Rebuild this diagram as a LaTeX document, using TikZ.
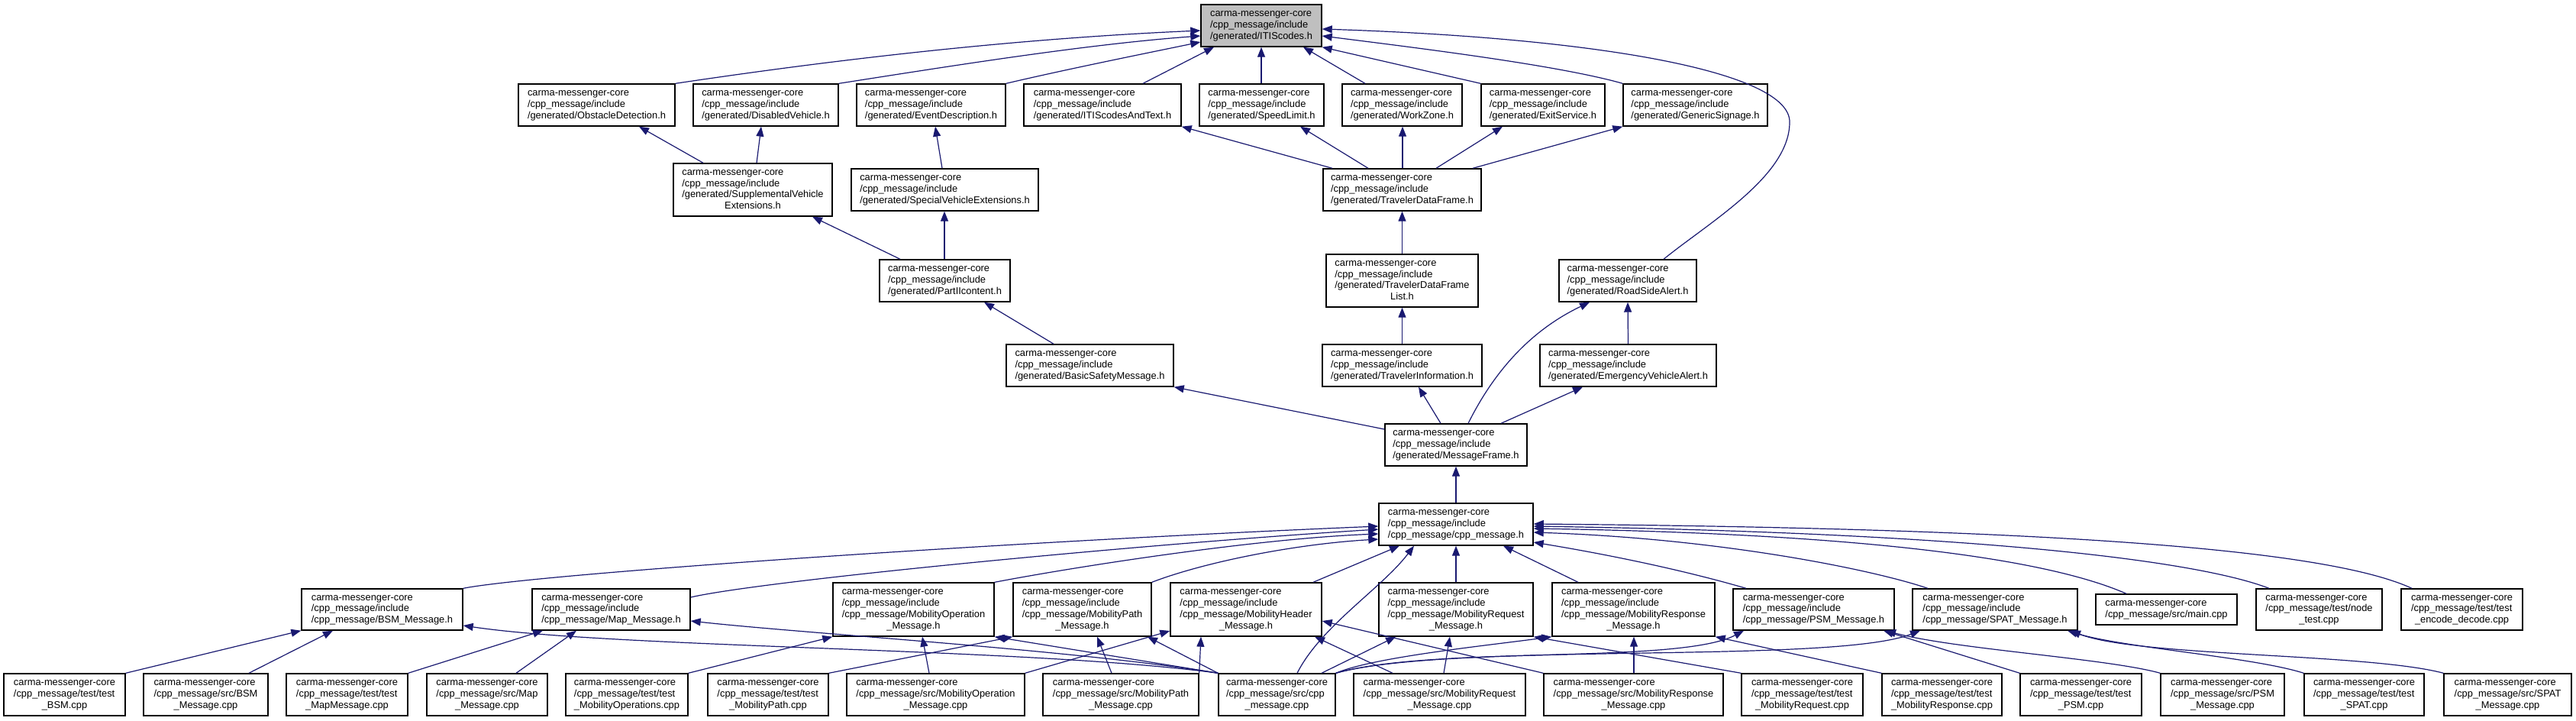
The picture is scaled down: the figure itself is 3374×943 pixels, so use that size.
\documentclass[tikz,border=0pt]{standalone}
\usepackage{fontspec}
\setmainfont{Liberation Sans}
\usetikzlibrary{arrows.meta}
\definecolor{edgeblue}{HTML}{191970}
\definecolor{itisgray}{HTML}{BFBFBF}
\newcommand\dxl[2]{\begin{tabular}{@{}l@{}}#1\\\multicolumn{1}{@{}c@{}}{#2}\end{tabular}}
\newcommand\dxgen[1]{\dxl{carma-messenger-core\\/cpp\_message/include}{/generated/#1}}
\newcommand\dxcm[1]{\dxl{carma-messenger-core\\/cpp\_message/include}{/cpp\_message/#1}}
\newcommand\dxmob[1]{\dxl{carma-messenger-core\\/cpp\_message/include\\/cpp\_message/#1}{\_Message.h}}
\newcommand\dxnode[7][]{\node[nbox,#1,minimum width={#4-#3},minimum height={#6-#5}] (#2) at ({(#3+#4)/2},{(#5+#6)/2}) {#7};}
\begin{document}
\begin{tikzpicture}[x=1pt,y=-1pt,
  nbox/.style={rectangle,draw=black,line width=1.4pt,fill=white,inner sep=0pt,font={\fontsize{12.87}{14.7}\selectfont}},
  edge/.style={draw=edgeblue,line width=1.2pt,-{Triangle[length=13pt,width=10pt]}}]
\useasboundingbox (0,0) rectangle (3374,943);
% top
\dxnode[fill=itisgray]{itis}{1573}{1731}{6}{61}{\dxgen{ITIScodes.h}}
% row 2
\dxnode{obst}{679}{884}{110}{165}{\dxgen{ObstacleDetection.h}}
\dxnode{disab}{908}{1098}{110}{165}{\dxgen{DisabledVehicle.h}}
\dxnode{event}{1122}{1317}{110}{165}{\dxgen{EventDescription.h}}
\dxnode{itistext}{1341}{1547}{110}{165}{\dxgen{ITIScodesAndText.h}}
\dxnode{speed}{1571}{1734}{110}{165}{\dxgen{SpeedLimit.h}}
\dxnode{work}{1758}{1915}{110}{165}{\dxgen{WorkZone.h}}
\dxnode{exit}{1940}{2102}{110}{165}{\dxgen{ExitService.h}}
\dxnode{generic}{2126}{2315}{110}{165}{\dxgen{GenericSignage.h}}
% row 3
\dxnode{suppl}{882}{1090}{214}{283}{\dxl{carma-messenger-core\\/cpp\_message/include\\/generated/SupplementalVehicle}{Extensions.h}}
\dxnode{special}{1115}{1360}{221}{276}{\dxgen{SpecialVehicleExtensions.h}}
\dxnode{tdf}{1733}{1940}{221}{276}{\dxgen{TravelerDataFrame.h}}
% row 4
\dxnode{part2}{1152}{1323}{340}{395}{\dxgen{PartIIcontent.h}}
\dxnode{tdfl}{1737}{1936}{333}{402}{\dxl{carma-messenger-core\\/cpp\_message/include\\/generated/TravelerDataFrame}{List.h}}
\dxnode{rsa}{2042}{2222}{340}{395}{\dxgen{RoadSideAlert.h}}
% row 5
\dxnode{bsm}{1318}{1537}{451}{506}{\dxgen{BasicSafetyMessage.h}}
\dxnode{ti}{1732}{1941}{451}{506}{\dxgen{TravelerInformation.h}}
\dxnode{eva}{2017}{2248}{451}{506}{\dxgen{EmergencyVehicleAlert.h}}
% row 6-7
\dxnode{mf}{1814}{2000}{555}{610}{\dxgen{MessageFrame.h}}
\dxnode{cpph}{1806}{2008}{659}{714}{\dxcm{cpp\_message.h}}
% row 8
\dxnode{hBSM}{395}{606}{771}{825}{\dxcm{BSM\_Message.h}}
\dxnode{hMap}{697}{904}{771}{825}{\dxcm{Map\_Message.h}}
\dxnode{hOpe}{1091}{1302}{763}{833}{\dxmob{MobilityOperation}}
\dxnode{hPath}{1327}{1508}{763}{833}{\dxmob{MobilityPath}}
\dxnode{hHead}{1533}{1731}{763}{833}{\dxmob{MobilityHeader}}
\dxnode{hReq}{1806}{2008}{763}{833}{\dxmob{MobilityRequest}}
\dxnode{hRes}{2033}{2246}{763}{833}{\dxmob{MobilityResponse}}
\dxnode{hPSM}{2270}{2481}{771}{825}{\dxcm{PSM\_Message.h}}
\dxnode{hSPAT}{2505}{2721}{771}{825}{\dxcm{SPAT\_Message.h}}
\dxnode{main}{2745}{2930}{778}{818}{\dxl{carma-messenger-core}{/cpp\_message/src/main.cpp}}
\dxnode{nodet}{2955}{3120}{771}{825}{\dxl{carma-messenger-core\\/cpp\_message/test/node}{\_test.cpp}}
\dxnode{encdec}{3145}{3304}{771}{825}{\dxl{carma-messenger-core\\/cpp\_message/test/test}{\_encode\_decode.cpp}}
% bottom row
\dxnode{tBSM}{5}{164}{882}{937}{\dxl{carma-messenger-core\\/cpp\_message/test/test}{\_BSM.cpp}}
\dxnode{sBSM}{188}{351}{882}{937}{\dxl{carma-messenger-core\\/cpp\_message/src/BSM}{\_Message.cpp}}
\dxnode{tMap}{375}{534}{882}{937}{\dxl{carma-messenger-core\\/cpp\_message/test/test}{\_MapMessage.cpp}}
\dxnode{sMap}{559}{717}{882}{937}{\dxl{carma-messenger-core\\/cpp\_message/src/Map}{\_Message.cpp}}
\dxnode{tOpe}{741}{901}{882}{937}{\dxl{carma-messenger-core\\/cpp\_message/test/test}{\_MobilityOperations.cpp}}
\dxnode{tPath}{927}{1085}{882}{937}{\dxl{carma-messenger-core\\/cpp\_message/test/test}{\_MobilityPath.cpp}}
\dxnode{sOpe}{1109}{1342}{882}{937}{\dxl{carma-messenger-core\\/cpp\_message/src/MobilityOperation}{\_Message.cpp}}
\dxnode{sPath}{1366}{1570}{882}{937}{\dxl{carma-messenger-core\\/cpp\_message/src/MobilityPath}{\_Message.cpp}}
\dxnode{sCpp}{1596}{1749}{882}{937}{\dxl{carma-messenger-core\\/cpp\_message/src/cpp}{\_message.cpp}}
\dxnode{sReq}{1773}{1998}{882}{937}{\dxl{carma-messenger-core\\/cpp\_message/src/MobilityRequest}{\_Message.cpp}}
\dxnode{sRes}{2022}{2257}{882}{937}{\dxl{carma-messenger-core\\/cpp\_message/src/MobilityResponse}{\_Message.cpp}}
\dxnode{tReq}{2281}{2440}{882}{937}{\dxl{carma-messenger-core\\/cpp\_message/test/test}{\_MobilityRequest.cpp}}
\dxnode{tRes}{2465}{2622}{882}{937}{\dxl{carma-messenger-core\\/cpp\_message/test/test}{\_MobilityResponse.cpp}}
\dxnode{tPSM}{2646}{2805}{882}{937}{\dxl{carma-messenger-core\\/cpp\_message/test/test}{\_PSM.cpp}}
\dxnode{sPSM}{2830}{2992}{882}{937}{\dxl{carma-messenger-core\\/cpp\_message/src/PSM}{\_Message.cpp}}
\dxnode{tSPAT}{3018}{3175}{882}{937}{\dxl{carma-messenger-core\\/cpp\_message/test/test}{\_SPAT.cpp}}
\dxnode{sSPAT}{3201}{3368}{882}{937}{\dxl{carma-messenger-core\\/cpp\_message/src/SPAT}{\_Message.cpp}}
% edges into ITIScodes
\draw[edge] (obst.north east) .. controls (1114,75) and (1343,50) .. (itis.west |- 0,40);
\draw[edge] (disab.north east) .. controls (1248,86) and (1423,58) .. (itis.west |- 0,47);
\draw[edge] (event.north east) .. controls (1400,90) and (1500,70) .. (itis.west |- 0,55);
\draw[edge] (itistext.north -| 1497,0) -- (itis.south -| 1590,0);
\draw[edge] (speed.north -| 1652,0) -- (itis.south -| 1652,0);
\draw[edge] (work.north -| 1788,0) -- (itis.south -| 1707,0);
\draw[edge] (exit.north west) -- (itis.south east);
\draw[edge] (generic.north west) .. controls (2040,85) and (1850,62) .. (itis.east |- 0,47);
\draw[edge] (rsa.north -| 2179,0) .. controls (2240,290) and (2344,230) .. (2344,160) .. controls (2345,95) and (2100,50) .. (itis.east |- 0,38);
% TravelerDataFrame
\draw[edge] (tdf.north -| 1745,0) -- (itistext.south east);
\draw[edge] (tdf.north -| 1792,0) -- (speed.south -| 1703,0);
\draw[edge] (tdf.north -| 1837,0) -- (work.south -| 1837,0);
\draw[edge] (tdf.north -| 1881,0) -- (exit.south -| 1968,0);
\draw[edge] (tdf.north -| 1929,0) -- (generic.south west);
% middle
\draw[edge] (suppl.north -| 921,0) -- (obst.south -| 837,0);
\draw[edge] (suppl.north -| 991,0) -- (disab.south -| 997,0);
\draw[edge] (special.north -| 1234,0) -- (event.south -| 1225,0);
\draw[edge] (part2.north -| 1179,0) -- (suppl.south -| 1064,0);
\draw[edge] (part2.north -| 1237,0) -- (special.south -| 1237,0);
\draw[edge] (bsm.north -| 1380,0) -- (part2.south -| 1289,0);
\draw[edge] (tdfl.north) -- (tdf.south);
\draw[edge] (ti.north) -- (tdfl.south);
\draw[edge] (eva.north) -- (rsa.south);
\draw[edge] (mf.west |- 0,562) -- (bsm.south east);
\draw[edge] (mf.north -| 1887,0) -- (ti.south -| 1858,0);
\draw[edge] (mf.north -| 1923,0) .. controls (1960,480) and (2010,430) .. (rsa.south -| 2082,0);
\draw[edge] (mf.north -| 1966,0) -- (eva.south -| 2073,0);
\draw[edge] (cpph.north) -- (mf.south);
% row 8 into cpp_message.h
\draw[edge] (hBSM.north east) .. controls (700,752) and (1300,710) .. (cpph.west |- 0,689);
\draw[edge] (hMap.east |- 0,782) .. controls (1000,760) and (1500,712) .. (cpph.west |- 0,693);
\draw[edge] (hOpe.north east) .. controls (1420,740) and (1650,705) .. (cpph.west |- 0,699);
\draw[edge] (hPath.north east) .. controls (1580,735) and (1700,712) .. (cpph.west |- 0,706);
\draw[edge] (hHead.north -| 1720,0) -- (cpph.south -| 1833,0);
\draw[edge] (sCpp.north -| 1699,0) .. controls (1730,820) and (1810,770) .. (cpph.south -| 1852,0);
\draw[edge] (hReq.north) -- (cpph.south);
\draw[edge] (hRes.north -| 2067,0) -- (cpph.south -| 1969,0);
\draw[edge] (hPSM.north -| 2287,0) .. controls (2200,745) and (2100,725) .. (cpph.east |- 0,710);
\draw[edge] (hSPAT.north -| 2525,0) .. controls (2450,745) and (2250,705) .. (cpph.east |- 0,697);
\draw[edge] (main.north -| 2785,0) .. controls (2700,740) and (2500,700) .. (cpph.east |- 0,692);
\draw[edge] (nodet.north -| 2972,0) .. controls (2880,735) and (2600,698) .. (cpph.east |- 0,689);
\draw[edge] (encdec.north -| 3159,0) .. controls (3050,720) and (2700,692) .. (cpph.east |- 0,686);
% bottom row
\draw[edge] (tBSM.north east) -- (hBSM.south west);
\draw[edge] (sBSM.north -| 326,0) -- (hBSM.south -| 436,0);
\draw[edge] (tMap.north east) -- (hMap.south -| 711,0);
\draw[edge] (sMap.north -| 676,0) -- (hMap.south -| 755,0);
\draw[edge] (tOpe.north east) -- (hOpe.south west);
\draw[edge] (tPath.north east) -- (hPath.south west);
\draw[edge] (sOpe.north -| 1217,0) -- (hOpe.south -| 1208,0);
\draw[edge] (sOpe.north east) -- (hHead.west |- 0,826);
\draw[edge] (sPath.north -| 1456,0) -- (hPath.south -| 1437,0);
\draw[edge] (sPath.north east) -- (hHead.south -| 1573,0);
\draw[edge] (sCpp.north west) -- (hOpe.south east);
\draw[edge] (sCpp.north west) -- (hPath.south -| 1503,0);
\draw[edge] (sCpp.north west) .. controls (1350,848) and (809,849) .. (hBSM.east |- 0,819);
\draw[edge] (sCpp.north west) .. controls (1400,850) and (1059,830) .. (hMap.east |- 0,813);
\draw[edge] (sCpp.north -| 1731,0) -- (hReq.south -| 1828,0);
\draw[edge] (sCpp.north east) .. controls (1800,860) and (1950,845) .. (hRes.south west);
\draw[edge] (sCpp.north east) .. controls (1880,845) and (2200,870) .. (hPSM.south -| 2284,0);
\draw[edge] (sCpp.north east) .. controls (1900,840) and (2400,870) .. (hSPAT.south -| 2515,0);
\draw[edge] (sReq.north -| 1891,0) -- (hReq.south -| 1899,0);
\draw[edge] (sReq.north -| 1824,0) -- (hHead.south -| 1722,0);
\draw[edge] (sRes.north -| 2140,0) -- (hRes.south -| 2140,0);
\draw[edge] (sRes.north west) -- (hHead.east |- 0,813);
\draw[edge] (tReq.north west) -- (hReq.south east);
\draw[edge] (tRes.north west) -- (hRes.south east);
\draw[edge] (tPSM.north west) -- (hPSM.south -| 2467,0);
\draw[edge] (sPSM.north west) .. controls (2760,862) and (2560,850) .. (hPSM.south -| 2470,0);
\draw[edge] (tSPAT.north west) .. controls (2950,860) and (2780,848) .. (hSPAT.south -| 2708,0);
\draw[edge] (sSPAT.north west) .. controls (3100,855) and (2800,860) .. (hSPAT.south -| 2712,0);
\end{tikzpicture}
\end{document}
